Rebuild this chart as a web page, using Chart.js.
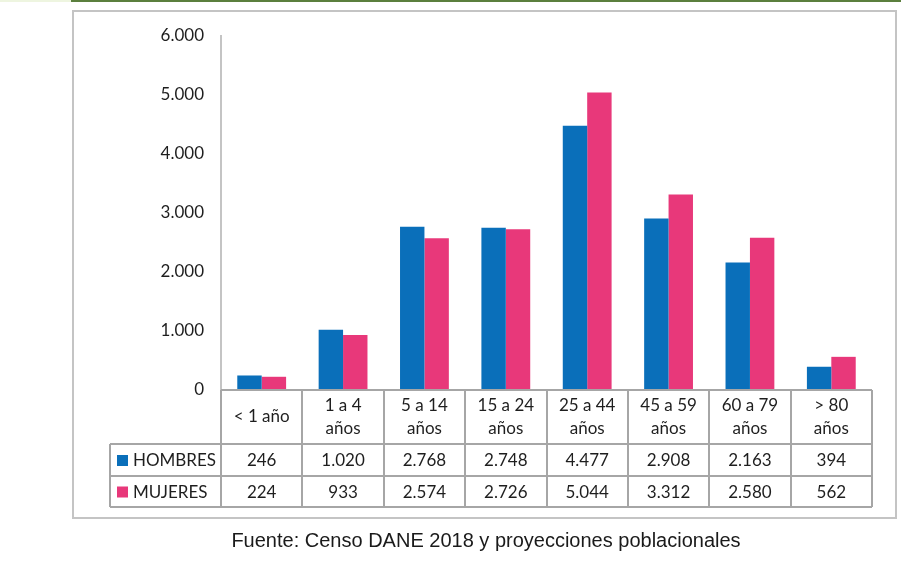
<!DOCTYPE html>
<html>
<head>
<meta charset="utf-8">
<script src="https://cdn.jsdelivr.net/npm/chart.js@4.4.1/dist/chart.umd.min.js"></script>
<style>
  html, body { margin: 0; padding: 0; background: #fff; }
  #wrap { width: 911px; height: 569px; }
</style>
</head>
<body>
<div id="wrap"><canvas id="poblacion" width="911" height="569"></canvas></div>
<script>
// datos
const categories = [['< 1 año'], ['1 a 4', 'años'], ['5 a 14', 'años'], ['15 a 24', 'años'],
    ['25 a 44', 'años'], ['45 a 59', 'años'], ['60 a 79', 'años'], ['> 80', 'años']];
const hombres = [246, 1020, 2768, 2748, 4477, 2908, 2163, 394];
const mujeres = [224, 933, 2574, 2726, 5044, 3312, 2580, 562];
const yTicks = [0, 1000, 2000, 3000, 4000, 5000, 6000];
const fuente = 'Fuente: Censo DANE 2018 y proyecciones poblacionales';

const azul = '#0a6fba';
const rosa = '#e8387a';
const FONT = 'Lato, "Open Sans", sans-serif';
const TXT = '#1e1e1e';

function fmt(v) {
    return String(v).replace(/\B(?=(\d{3})+(?!\d))/g, '.');
}

// tabla de datos debajo del eje x
const tablaPlugin = {
    id: 'tabla',
    beforeDraw(chart) {
        const { ctx } = chart;
        ctx.save();
        ctx.fillStyle = '#eef5e0';
        ctx.fillRect(0, 0, 71, 2);
        ctx.fillStyle = '#5b7f3e';
        ctx.fillRect(71, 0, 830, 2);
        ctx.strokeStyle = '#c4c4c4';
        ctx.lineWidth = 2;
        ctx.strokeRect(73, 11, 823, 507);
        ctx.restore();
    },
    afterDraw(chart) {
        const { ctx, scales } = chart;
        const x = scales.x;
        const left = x.left, right = x.right;
        const colW = (right - left) / categories.length;
        const yTop = chart.chartArea.bottom;
        const yH = yTop + 54, yR1 = yH + 32, yR2 = yR1 + 31;
        const legL = 110;

        ctx.save();
        ctx.strokeStyle = '#a6a6a6';
        ctx.lineWidth = 2;
        ctx.beginPath();
        // horizontales
        ctx.moveTo(left, yTop); ctx.lineTo(right, yTop);
        ctx.moveTo(legL, yH); ctx.lineTo(right, yH);
        ctx.moveTo(legL, yR1); ctx.lineTo(right, yR1);
        ctx.moveTo(legL, yR2); ctx.lineTo(right, yR2);
        // verticales
        ctx.moveTo(legL, yH); ctx.lineTo(legL, yR2);
        for (let i = 0; i <= categories.length; i++) {
            const cx = Math.round(left + i * colW);
            ctx.moveTo(cx, yTop); ctx.lineTo(cx, yR2);
        }
        ctx.stroke();

        ctx.fillStyle = TXT;
        ctx.font = '17px ' + FONT;
        ctx.textAlign = 'center';
        ctx.textBaseline = 'middle';
        categories.forEach((lines, i) => {
            const cx = x.getPixelForValue(i);
            const mid = (yTop + yH) / 2;
            if (lines.length === 1) {
                ctx.fillText(lines[0], cx, mid);
            } else {
                ctx.fillText(lines[0], cx, mid - 11);
                ctx.fillText(lines[1], cx, mid + 12);
            }
            ctx.fillText(fmt(hombres[i]), cx, (yH + yR1) / 2 + 1);
            ctx.fillText(fmt(mujeres[i]), cx, (yR1 + yR2) / 2 + 1);
        });

        // leyenda
        ctx.textAlign = 'left';
        ctx.fillStyle = azul;
        ctx.fillRect(117, (yH + yR1) / 2 - 5, 11, 11);
        ctx.fillStyle = rosa;
        ctx.fillRect(117, (yR1 + yR2) / 2 - 5, 11, 11);
        ctx.fillStyle = TXT;
        ctx.fillText('HOMBRES', 133, (yH + yR1) / 2 + 1);
        ctx.fillText('MUJERES', 133, (yR1 + yR2) / 2 + 1);

        // fuente
        ctx.textAlign = 'center';
        ctx.fillStyle = '#1a1a1a';
        ctx.font = '20px "Liberation Sans Narrow", "Liberation Sans", Arial, sans-serif';
        ctx.fillText(fuente, 486, 541);
        ctx.restore();
    }
};

const config = {
    type: 'bar',
    data: {
        labels: categories,
        datasets: [
            { label: 'HOMBRES', data: hombres, backgroundColor: azul },
            { label: 'MUJERES', data: mujeres, backgroundColor: rosa }
        ]
    },
    options: {
        responsive: false,
        animation: false,
        layout: {
            padding: { left: 0, right: 39, top: 36, bottom: 179 }
        },
        datasets: {
            bar: { categoryPercentage: 0.6, barPercentage: 1.0 }
        },
        plugins: {
            legend: { display: false },
            tooltip: { enabled: false }
        },
        scales: {
            x: {
                display: false
            },
            y: {
                min: 0,
                max: 6000,
                afterFit: (scale) => { scale.width = 221; },
                afterBuildTicks: (scale) => { scale.ticks = yTicks.map(v => ({ value: v })); },
                grid: { display: false, drawTicks: false },
                border: { display: true, color: '#c4c4c4', width: 2 },
                ticks: {
                    padding: 17,
                    color: TXT,
                    font: { family: FONT, size: 17 },
                    callback: (v) => fmt(v)
                }
            }
        }
    },
    plugins: [tablaPlugin]
};

const chartPoblacion = new Chart(document.getElementById('poblacion'), config);
</script>
</body>
</html>
